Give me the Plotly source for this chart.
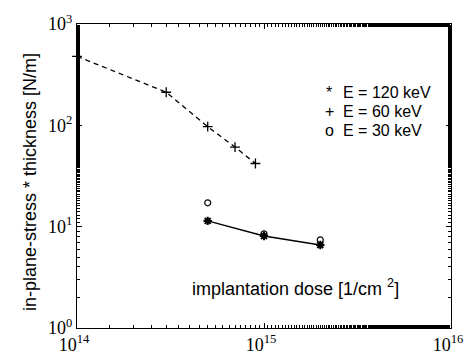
import plotly.graph_objects as go

# 60 keV (+), dashed
dose_60 = [1e14, 3e14, 5e14, 7e14, 9e14]
stress_60 = [480, 212, 97, 61, 42]
# 120 keV (*), solid
dose_120 = [5e14, 1e15, 2e15]
stress_120 = [11.4, 8.1, 6.6]
# 30 keV (o), markers only
dose_30 = [5e14, 1e15, 2e15]
stress_30 = [17.2, 8.5, 7.4]

x_tickvals = [1e14, 1e15, 1e16]
x_ticktext = ["10<sup>14</sup>", "10<sup>15</sup>", "10<sup>16</sup>"]
y_tickvals = [1, 10, 100, 1000]
y_ticktext = ["10<sup>0</sup>", "10<sup>1</sup>", "10<sup>2</sup>", "10<sup>3</sup>"]

legend_symbols = ["*", "+", "o"]
legend_labels = ["E = 120 keV", "E = 60 keV", "E = 30 keV"]

fig = go.Figure()
fig.add_trace(go.Scatter(x=dose_60, y=stress_60, mode="lines+markers", cliponaxis=False,
                         line=dict(color="black", width=1.3, dash="5px,4px"),
                         marker=dict(symbol="cross-thin", size=7, line=dict(color="black", width=1.3))))
fig.add_trace(go.Scatter(x=dose_120, y=stress_120, mode="lines+markers",
                         line=dict(color="black", width=1.5),
                         marker=dict(symbol="asterisk", size=7, line=dict(color="black", width=2))))
fig.add_trace(go.Scatter(x=dose_30, y=stress_30, mode="markers",
                         marker=dict(symbol="circle-open", size=6, color="black", line=dict(color="black", width=1.2))))

axis_common = dict(type="log", showgrid=False, zeroline=False, showline=True, linecolor="black",
                   linewidth=1, mirror="allticks", ticks="inside", ticklen=5, tickcolor="black",
                   automargin=False,
                   tickfont=dict(family="Liberation Serif", size=18, color="black"),
                   minor=dict(ticks="inside", ticklen=3, tickcolor="black", showgrid=False))

fig.update_xaxes(range=[14, 16], tickmode="array", tickvals=x_tickvals, ticktext=x_ticktext,
                 ticklabelshift=-3, **axis_common)
fig.update_yaxes(range=[0, 3], tickmode="array", tickvals=y_tickvals, ticktext=y_ticktext,
                 **axis_common)

sans = "Liberation Sans"
annotations = [
    dict(x=-0.158, y=0.48, xref="paper", yref="paper", showarrow=False, textangle=-90,
         text="in-plane-stress * thickness [N/m]",
         font=dict(family=sans, size=18, color="black")),
    dict(x=0.585, y=0.089, xref="paper", yref="paper", showarrow=False,
         text="implantation dose [1/cm <sup>2</sup>]",
         font=dict(family=sans, size=18, color="black")),
]
for i, (s, t) in enumerate(zip(legend_symbols, legend_labels)):
    yy = 0.809 - i * 0.0625
    annotations.append(dict(x=0.674, y=yy, xref="paper", yref="paper", showarrow=False,
                            xanchor="center", text=s,
                            font=dict(family=sans, size=16, color="black")))
    annotations.append(dict(x=0.706, y=yy, xref="paper", yref="paper", showarrow=False,
                            xanchor="left", text=t,
                            font=dict(family=sans, size=16, color="black")))
fig.update_layout(annotations=annotations, showlegend=False, template="none",
                  width=470, height=363, margin=dict(l=77, r=19, t=24, b=35),
                  plot_bgcolor="white", paper_bgcolor="white")

fig.write_html("out.html", config={"displayModeBar": False},
               post_script="document.body.style.margin='0';document.body.style.overflow='hidden';")
